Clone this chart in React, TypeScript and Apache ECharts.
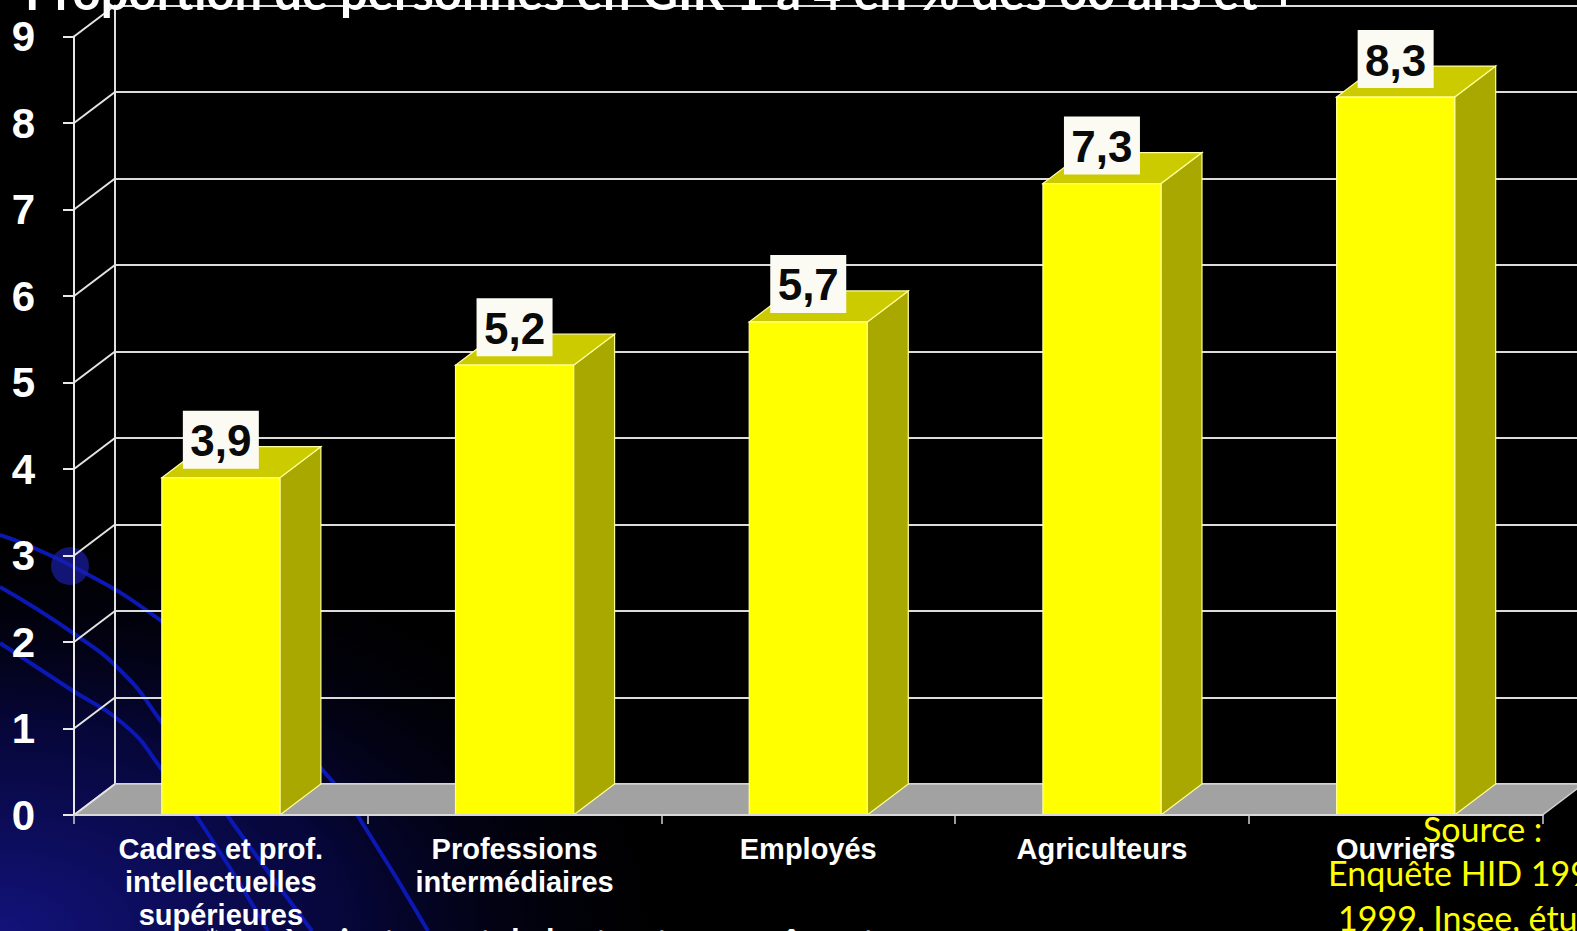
import React, { useEffect, useRef } from 'react';
import * as echarts from 'echarts';

const categories = [
  'Cadres et prof.\nintellectuelles\nsupérieures',
  'Professions\nintermédiaires',
  'Employés',
  'Agriculteurs',
  'Ouvriers',
];
const values = [3.9, 5.2, 5.7, 7.3, 8.3];
const valueLabels = ['3,9', '5,2', '5,7', '7,3', '8,3'];
const yTicks = [0, 1, 2, 3, 4, 5, 6, 7, 8, 9];
const titleText = 'Proportion de personnes en GIR 1 à 4 en % des 60 ans et +';
const sourceLines = ['Source :', 'Enquête HID 1998-', '1999, Insee, études'];
const footnote = '* Après ajustement de la structure par âge et par sexe';

const DX = 41;
const DY = -31;
const W = 1577;
const H = 931;

function fitFont(text: string, weight: string, family: string, target: number) {
  const c = document.createElement('canvas').getContext('2d');
  if (!c) return 44;
  c.font = `${weight} 100px ${family}`;
  const w = c.measureText(text).width;
  return (100 * target) / w;
}

export default function App() {
  const ref = useRef<HTMLDivElement>(null);
  useEffect(() => {
    if (!ref.current) return;
    const chart = echarts.init(ref.current, null, { renderer: 'svg' });
    const titleSize = fitFont(titleText, 'bold', 'Lato', 1272);
    const edge = '#ffff99';
    const arcStyle = { stroke: '#0b18b4', lineWidth: 4, fill: null };
    const option: any = {
      animation: false,
      backgroundColor: '#000000',
      graphic: [
        {
          type: 'rect',
          z: -10,
          shape: { x: 0, y: 0, width: W, height: H },
          style: {
            fill: {
              type: 'radial', x: 0, y: 1, r: 0.45,
              colorStops: [
                { offset: 0, color: '#12127a' },
                { offset: 0.5, color: '#060638' },
                { offset: 1, color: 'rgba(0,0,0,0)' },
              ],
            },
          },
          silent: true,
        },
        {
          type: 'polyline', z: -5, silent: true,
          shape: { points: [[0, 535], [70, 565], [160, 620], [250, 695], [333, 782], [366, 829], [428, 931]], smooth: 0.5 },
          style: arcStyle,
        },
        {
          type: 'polyline', z: -5, silent: true,
          shape: { points: [[0, 587], [73, 633], [123, 673], [160, 720], [237, 829], [312, 931]], smooth: 0.5 },
          style: arcStyle,
        },
        {
          type: 'polyline', z: -5, silent: true,
          shape: { points: [[0, 643], [67, 687], [127, 727], [160, 767], [205, 829], [268, 931]], smooth: 0.5 },
          style: arcStyle,
        },
        {
          type: 'circle', z: -4, silent: true,
          shape: { cx: 70, cy: 566, r: 19 },
          style: { fill: 'rgba(28,32,175,0.65)' },
        },
        {
          type: 'text', z: 50, left: 25, top: 14 - titleSize * 0.98,
          style: {
            text: titleText, fill: '#ffffff',
            font: `bold ${titleSize.toFixed(1)}px Lato`,
          },
        },
        {
          type: 'text', z: 50, x: 1423, y: 828,
          style: { text: sourceLines[0], fill: '#ffff00', font: '34px Lato', align: 'left', textAlign: 'left', verticalAlign: 'middle', textVerticalAlign: 'middle' },
        },
        {
          type: 'text', z: 50, x: 1328, y: 872,
          style: { text: sourceLines[1], fill: '#ffff00', font: '34px Lato', align: 'left', textAlign: 'left', verticalAlign: 'middle', textVerticalAlign: 'middle' },
        },
        {
          type: 'text', z: 50, x: 1338, y: 917,
          style: { text: sourceLines[2], fill: '#ffff00', font: '34px Lato', align: 'left', textAlign: 'left', verticalAlign: 'middle', textVerticalAlign: 'middle' },
        },
        {
          type: 'text', z: 50, x: 205, y: 923,
          style: { text: footnote, fill: '#ffffff', font: 'bold 34px Lato', align: 'left', textAlign: 'left', verticalAlign: 'top', textVerticalAlign: 'top' },
        },
      ],
      grid: [
        { left: 74, top: 36.5, width: 1468.5, height: 778.5 },
        { left: 74 + DX, top: 36.5 + DY, width: 1468.5, height: 778.5 },
      ],
      xAxis: [
        {
          type: 'category', gridIndex: 0, data: categories,
          axisLine: { show: true, lineStyle: { color: '#d8d8d8', width: 2 } },
          axisTick: { show: true, length: 9, lineStyle: { color: '#cfcfcf', width: 1.5 } },
          axisLabel: {
            interval: 0, color: '#ffffff', fontSize: 29, fontWeight: 'bold',
            fontFamily: 'Liberation Sans', lineHeight: 33, margin: 17,
          },
          splitLine: { show: false },
          z: 6,
        },
        {
          type: 'category', gridIndex: 1, data: categories, show: false,
        },
      ],
      yAxis: [
        {
          type: 'value', gridIndex: 0, min: 0, max: 9, interval: 1,
          axisLine: { show: true, lineStyle: { color: '#e8e8e8', width: 2 } },
          axisTick: { show: true, length: 11, lineStyle: { color: '#e8e8e8', width: 2 } },
          axisLabel: {
            color: '#ffffff', fontSize: 42, fontWeight: 'bold',
            fontFamily: 'Liberation Sans', margin: 39,
          },
          splitLine: { show: false },
          z: 6,
        },
        {
          type: 'value', gridIndex: 1, min: 0, max: 9, interval: 1,
          axisLine: { show: true, lineStyle: { color: '#e0e0e0', width: 2 } },
          axisTick: { show: false },
          axisLabel: { show: false },
          splitLine: { show: true, lineStyle: { color: '#dcdcdc', width: 2 } },
        },
      ],
      series: [
        {
          type: 'custom', name: 'floor', xAxisIndex: 0, yAxisIndex: 0, z: 3, clip: false, silent: true,
          data: [[0, 0]],
          renderItem: (params: any, api: any) => {
            const cs = params.coordSys;
            const y0 = api.coord([0, 0])[1];
            return {
              type: 'polygon',
              shape: { points: [[cs.x, y0], [cs.x + cs.width, y0], [cs.x + cs.width + DX, y0 + DY], [cs.x + DX, y0 + DY]] },
              style: { fill: '#a2a2a2', stroke: '#d0d0d0', lineWidth: 1.5 },
            };
          },
        },
        {
          type: 'custom', name: 'wall', xAxisIndex: 0, yAxisIndex: 0, z: 4, clip: false, silent: true,
          data: yTicks.map((v) => [0, v]),
          renderItem: (params: any, api: any) => {
            const cs = params.coordSys;
            const y = api.coord([0, api.value(1)])[1];
            return {
              type: 'line',
              shape: { x1: cs.x, y1: y, x2: cs.x + DX, y2: y + DY },
              style: { stroke: '#e4e4e4', lineWidth: 2 },
            };
          },
        },
        {
          type: 'custom', name: 'bars', xAxisIndex: 0, yAxisIndex: 0, z: 5, clip: false, silent: true,
          data: values.map((v, i) => [i, v]),
          encode: { x: 0, y: 1 },
          renderItem: (params: any, api: any) => {
            const idx = api.value(0);
            const v = api.value(1);
            const top = api.coord([idx, v]);
            const base = api.coord([idx, 0]);
            const bw = api.size([1, 0])[0] * 0.402;
            const xl = top[0] - bw / 2;
            const xr = top[0] + bw / 2;
            const yt = top[1];
            const yb = base[1];
            const bh = 58;
            const bwid = 76;
            return {
              type: 'group',
              children: [
                {
                  type: 'polygon',
                  shape: { points: [[xr, yt], [xr + DX, yt + DY], [xr + DX, yb + DY], [xr, yb]] },
                  style: { fill: '#a9a800', stroke: edge, lineWidth: 1.2 },
                },
                {
                  type: 'polygon',
                  shape: { points: [[xl, yt], [xl + DX, yt + DY], [xr + DX, yt + DY], [xr, yt]] },
                  style: { fill: '#cccb00', stroke: edge, lineWidth: 1.2 },
                },
                {
                  type: 'rect',
                  shape: { x: xl, y: yt, width: bw, height: yb - yt },
                  style: { fill: '#ffff00', stroke: edge, lineWidth: 1.2 },
                },
                {
                  type: 'rect',
                  shape: { x: top[0] - bwid / 2, y: yt - 9 - bh, width: bwid, height: bh },
                  style: { fill: '#fbfbf4' },
                },
                {
                  type: 'text',
                  x: top[0], y: yt - 9 - bh / 2 + 1,
                  style: {
                    text: valueLabels[idx], fill: '#0a0a0a',
                    font: 'bold 44px "Liberation Sans"',
                    align: 'center', textAlign: 'center',
                    verticalAlign: 'middle', textVerticalAlign: 'middle',
                  },
                },
              ],
            };
          },
        },
      ],
    };
    chart.setOption(option);
    return () => chart.dispose();
  }, []);
  return (
    <div
      ref={ref}
      style={{ position: 'fixed', left: 0, top: 0, width: W, height: H }}
    />
  );
}
